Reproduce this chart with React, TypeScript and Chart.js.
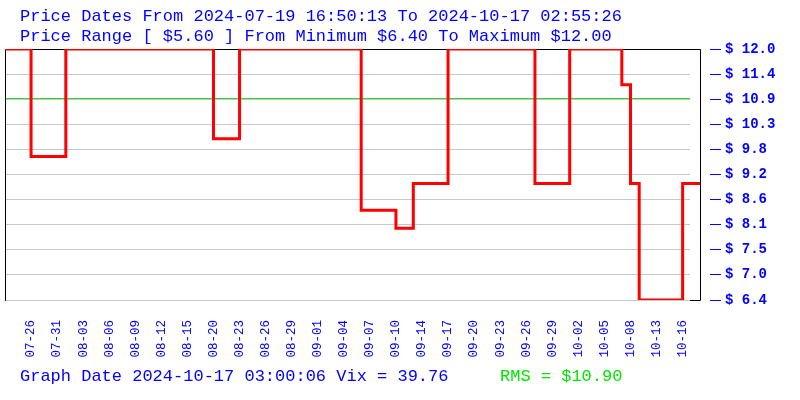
import React, { useEffect, useRef } from 'react';
import { Chart, registerables } from 'chart.js';

Chart.register(...registerables);

// ---- Data ----
const titleLine1 = 'Price Dates From 2024-07-19 16:50:13 To 2024-10-17 02:55:26';
const titleLine2 = 'Price Range [ $5.60 ] From Minimum $6.40 To Maximum $12.00';
const footerLeft = 'Graph Date 2024-10-17 03:00:06 Vix = 39.76';
const footerRms = 'RMS = $10.90';
const rmsValue = 10.9;

const dateLabels = [
  '07-26', '07-31', '08-03', '08-06', '08-09', '08-12', '08-15', '08-20', '08-23',
  '08-26', '08-29', '09-01', '09-04', '09-07', '09-10', '09-14', '09-17', '09-20',
  '09-23', '09-26', '09-29', '10-02', '10-05', '10-08', '10-13', '10-16',
];
const dateLabelIndex = [
  3, 6, 9, 12, 15, 18, 21, 24, 27, 30, 33, 36, 39, 42, 45, 48, 51, 54, 57, 60, 63,
  66, 69, 72, 75, 78,
];

// sample index where the price changes, and the new price
const stepIndex = [0, 3, 7, 24, 27, 41, 45, 47, 51, 61, 65, 71, 72, 73, 78, 80];
const stepPrice = [12.0, 9.6, 12.0, 10.0, 12.0, 8.4, 8.0, 9.0, 12.0, 9.0, 12.0, 11.2, 9.0, 6.4, 9.0, 9.0];

const yTickValues = [6.4, 6.96, 7.52, 8.08, 8.64, 9.2, 9.76, 10.32, 10.88, 11.44, 12.0];
const yMin = 6.4;
const yMax = 12.0;
const xMin = 0;
const xMax = 80;

const BLUE = '#0000ff';
const GREEN = 'rgb(0,230,0)';
const MONO = "'Liberation Mono', 'DejaVu Sans Mono', monospace";

const framePlugin = {
  id: 'framePlugin',
  beforeDatasetsDraw(chart: any) {
    const { ctx, chartArea } = chart;
    const { left, right, top, bottom } = chartArea;
    const ys = chart.scales.y;
    ctx.save();
    // grid lines
    ctx.lineWidth = 1;
    ctx.strokeStyle = '#c8c8c8';
    yTickValues.forEach((v) => {
      const y = Math.floor(ys.getPixelForValue(v)) + 0.5;
      ctx.beginPath();
      ctx.moveTo(left + 1, y);
      ctx.lineTo(right - 10, y);
      ctx.stroke();
    });
    // RMS line
    ctx.strokeStyle = '#22dd22';
    const yr = Math.floor(ys.getPixelForValue(rmsValue)) + 0.5;
    ctx.beginPath();
    ctx.moveTo(left + 1, yr);
    ctx.lineTo(right - 10, yr);
    ctx.stroke();
    // frame
    ctx.strokeStyle = '#000000';
    ctx.beginPath();
    ctx.moveTo(left + 0.5, Math.floor(top) + 0.5);
    ctx.lineTo(right + 0.5, Math.floor(top) + 0.5);
    ctx.lineTo(right + 0.5, Math.floor(bottom) + 0.5);
    ctx.lineTo(right - 10, Math.floor(bottom) + 0.5);
    ctx.moveTo(left + 0.5, Math.floor(top) + 0.5);
    ctx.lineTo(left + 0.5, Math.floor(bottom) + 1);
    ctx.stroke();
    ctx.restore();
  },
  afterDraw(chart: any) {
    const { ctx, chartArea } = chart;
    const ys = chart.scales.y;
    ctx.save();
    // y tick dashes
    ctx.strokeStyle = BLUE;
    ctx.lineWidth = 1;
    yTickValues.forEach((v) => {
      const y = Math.floor(ys.getPixelForValue(v)) + 0.5;
      ctx.beginPath();
      ctx.moveTo(chartArea.right + 10, y);
      ctx.lineTo(chartArea.right + 21, y);
      ctx.stroke();
    });
    // texts
    ctx.font = `17px ${MONO}`;
    ctx.textAlign = 'left';
    ctx.textBaseline = 'alphabetic';
    ctx.fillStyle = BLUE;
    ctx.fillText(titleLine1, 20, 21);
    ctx.fillText(titleLine2, 20, 41);
    ctx.fillText(footerLeft, 20, 381);
    ctx.fillStyle = GREEN;
    ctx.fillText(footerRms, 500, 381);
    ctx.restore();
  },
};

export default function App() {
  const canvasRef = useRef<HTMLCanvasElement | null>(null);

  useEffect(() => {
    if (!canvasRef.current) return;
    const points = stepIndex.map((x, i) => ({ x, y: stepPrice[i] }));
    const chart = new Chart(canvasRef.current, {
      type: 'line',
      data: {
        datasets: [
          {
            data: points,
            stepped: 'before',
            borderColor: '#ff0000',
            borderWidth: 3,
            pointRadius: 0,
            fill: false,
          },
        ],
      },
      options: {
        responsive: false,
        animation: false,
        layout: { padding: { left: 5, top: 49, right: 0, bottom: 0 } },
        plugins: {
          legend: { display: false },
          tooltip: { enabled: false },
          title: { display: false },
        },
        scales: {
          x: {
            type: 'linear',
            min: xMin,
            max: xMax,
            position: 'bottom',
            grid: { display: false, drawTicks: false },
            border: { display: false },
            afterBuildTicks: (s: any) => {
              s.ticks = dateLabelIndex.map((v) => ({ value: v }));
            },
            afterFit: (s: any) => {
              s.height = 100;
            },
            ticks: {
              autoSkip: false,
              minRotation: 90,
              maxRotation: 90,
              padding: 20,
              color: BLUE,
              font: { family: MONO, size: 12.5 },
              callback: (v: any) => {
                const k = dateLabelIndex.indexOf(Number(v));
                return k >= 0 ? dateLabels[k] : '';
              },
            },
          },
          y: {
            type: 'linear',
            min: yMin,
            max: yMax,
            position: 'right',
            grid: { display: false, drawTicks: false },
            border: { display: false },
            afterBuildTicks: (s: any) => {
              s.ticks = yTickValues.map((v) => ({ value: v }));
            },
            afterFit: (s: any) => {
              s.width = 100;
            },
            ticks: {
              padding: 25,
              color: BLUE,
              font: { family: MONO, size: 14, weight: 'bold' },
              callback: (v: any) => '$ ' + Number(v).toFixed(1),
            },
          },
        },
      },
      plugins: [framePlugin],
    });
    return () => chart.destroy();
  }, []);

  return (
    <div style={{ position: 'absolute', left: 0, top: 0, width: 800, height: 400, background: '#ffffff' }}>
      <canvas ref={canvasRef} width={800} height={400} style={{ display: 'block' }} />
    </div>
  );
}
